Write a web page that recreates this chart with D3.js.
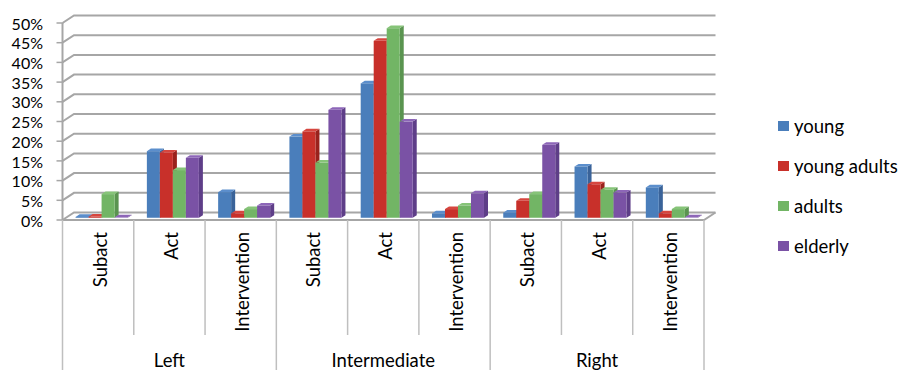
<!DOCTYPE html>
<html><head><meta charset="utf-8">
<script src="https://cdn.jsdelivr.net/npm/d3@7"></script>
<style>html,body{margin:0;padding:0;background:#fff;} svg{display:block;}</style>
</head><body>
<svg id="c" width="901" height="370"></svg>
<script>
const groups = ["Left", "Intermediate", "Right"];
const subcats = ["Subact", "Act", "Intervention"];
const series = ["young", "young adults", "adults", "elderly"];
const young       = [0.002, 0.169, 0.065, 0.206, 0.341, 0.011, 0.013, 0.130, 0.077];
const youngAdults = [0.003, 0.165, 0.011, 0.219, 0.449, 0.022, 0.043, 0.085, 0.011];
const adults      = [0.060, 0.121, 0.022, 0.140, 0.481, 0.031, 0.060, 0.071, 0.022];
const elderly     = [0.001, 0.152, 0.031, 0.274, 0.244, 0.062, 0.185, 0.064, 0.001];
const yTicks = [0, 0.05, 0.10, 0.15, 0.20, 0.25, 0.30, 0.35, 0.40, 0.45, 0.50];

const values = [young, youngAdults, adults, elderly];
const colors = {
  front: ["#4a7ebb", "#c8302a", "#72b565", "#7a52a5"],
  side:  ["#3a6399", "#9a221d", "#5a9450", "#5e3e88"],
  top:   ["#5b8ecc", "#d6463f", "#86c478", "#8d66b8"]
};
const cats = [];
groups.forEach(g => subcats.forEach(s => cats.push(g + "|" + s)));

const svg = d3.select("#c");
const font = "Lato, 'Liberation Sans', sans-serif";
const gridCol = "#a6a6a6";

const x = d3.scaleBand().domain(cats).range([62.5, 704]).padding(0);
const y = d3.scaleLinear().domain([0, 0.5]).range([220, 23]);
const DX = 11.5, DY = -7.5;
const f1 = 0.3, f2 = 0.65;

// side wall + back wall gridlines
const grid = svg.append("g");
yTicks.forEach(t => {
  grid.append("path")
    .attr("d", `M${x.range()[0]},${y(t)} L${x.range()[0] + DX},${y(t) + DY} L${x.range()[1] + DX},${y(t) + DY}`)
    .attr("fill", "none").attr("stroke", gridCol).attr("stroke-width", 2);
  grid.append("line")
    .attr("x1", x.range()[0] - 6).attr("x2", x.range()[0])
    .attr("y1", y(t)).attr("y2", y(t))
    .attr("stroke", gridCol).attr("stroke-width", 1.5);
  svg.append("text")
    .attr("x", 43).attr("y", y(t) + 1).attr("dy", "0.35em")
    .attr("text-anchor", "end").attr("font-family", font).attr("font-size", 16)
    .attr("fill", "#000").text(d3.format(".0%")(t));
});
// vertical axis
grid.append("line").attr("x1", x.range()[0]).attr("x2", x.range()[0])
  .attr("y1", y(0.5)).attr("y2", y(0)).attr("stroke", gridCol).attr("stroke-width", 2);
// floor front and right edge
grid.append("path")
  .attr("d", `M${x.range()[0]},${y(0)} L${x.range()[1]},${y(0)} L${x.range()[1] + DX},${y(0) + DY}`)
  .attr("fill", "none").attr("stroke", gridCol).attr("stroke-width", 2);

// bars
const inner = d3.scaleBand().domain(series).range([0, 52]);
const bars = svg.append("g");
cats.forEach((c, ci) => {
  const cx = x(c) + x.bandwidth() / 2 - 26;
  series.forEach((s, si) => {
    const v = values[si][ci];
    const bx = cx + inner(s) + f1 * DX;
    const by0 = y(0) + f1 * DY;
    const byt = y(v) + f1 * DY;
    const w = inner.bandwidth();
    const ddx = (f2 - f1) * DX, ddy = (f2 - f1) * DY;
    bars.append("path")
      .attr("d", `M${bx + w},${by0} L${bx + w + ddx},${by0 + ddy} L${bx + w + ddx},${byt + ddy} L${bx + w},${byt} Z`)
      .attr("fill", colors.side[si]);
    bars.append("path")
      .attr("d", `M${bx},${byt} L${bx + ddx},${byt + ddy} L${bx + w + ddx},${byt + ddy} L${bx + w},${byt} Z`)
      .attr("fill", colors.top[si]);
    bars.append("rect")
      .attr("x", bx).attr("y", byt).attr("width", w).attr("height", by0 - byt)
      .attr("fill", colors.front[si]);
  });
});

// bottom category axis
const axisG = svg.append("g");
cats.forEach((c, ci) => {
  const bx = x(c);
  const isGroupStart = ci % 3 === 0;
  axisG.append("line").attr("x1", bx).attr("x2", bx)
    .attr("y1", 220).attr("y2", isGroupStart ? 370 : 335)
    .attr("stroke", "#bfbfbf").attr("stroke-width", 1.5);
  const lbl = c.split("|")[1];
  axisG.append("text")
    .attr("transform", `translate(${bx + x.bandwidth() / 2 + 2},232) rotate(-90)`)
    .attr("dy", "0.35em").attr("text-anchor", "end")
    .attr("font-family", font).attr("font-size", 18.5).text(lbl);
});
axisG.append("line").attr("x1", x.range()[1]).attr("x2", x.range()[1])
  .attr("y1", 220).attr("y2", 370).attr("stroke", "#bfbfbf").attr("stroke-width", 1.5);
groups.forEach((g, gi) => {
  const a = x(cats[gi * 3]), b = x(cats[gi * 3 + 2]) + x.bandwidth();
  axisG.append("text").attr("x", (a + b) / 2).attr("y", 367)
    .attr("text-anchor", "middle").attr("font-family", font).attr("font-size", 18.5).text(g);
});

// legend
const leg = svg.append("g");
series.forEach((s, si) => {
  const yy = 126 + si * 40;
  leg.append("rect").attr("x", 778).attr("y", yy - 5).attr("width", 11).attr("height", 10)
    .attr("fill", colors.front[si]);
  leg.append("text").attr("x", 794).attr("y", yy + 7)
    .attr("font-family", font).attr("font-size", 18.5).text(s);
});
</script>
</body></html>
